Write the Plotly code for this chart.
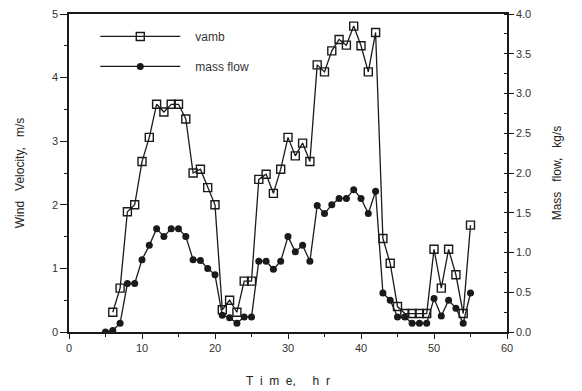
import plotly.graph_objects as go

# Data
time_vamb = list(range(6, 56))
vamb = [0.31, 0.69, 1.89, 2.00, 2.68, 3.06, 3.58, 3.46, 3.58, 3.58,
        3.35, 2.50, 2.56, 2.27, 2.00, 0.35, 0.50, 0.31, 0.80, 0.80,
        2.40, 2.48, 2.18, 2.56, 3.06, 2.77, 2.97, 2.68, 4.20, 4.09,
        4.42, 4.60, 4.51, 4.81, 4.50, 4.09, 4.71, 1.47, 1.08, 0.40,
        0.29, 0.29, 0.29, 0.29, 1.30, 0.69, 1.30, 0.90, 0.29, 1.68]

time_mass = list(range(5, 56))
mass_flow = [0.00, 0.02, 0.11, 0.61, 0.61, 0.91, 1.09, 1.30, 1.20, 1.30,
             1.30, 1.20, 0.91, 0.90, 0.80, 0.72, 0.21, 0.18, 0.11, 0.19,
             0.19, 0.89, 0.89, 0.79, 0.89, 1.20, 1.01, 1.09, 0.89, 1.59,
             1.49, 1.60, 1.68, 1.68, 1.79, 1.68, 1.49, 1.77, 0.49, 0.40,
             0.19, 0.19, 0.11, 0.11, 0.11, 0.42, 0.20, 0.40, 0.30, 0.11,
             0.49]

x_ticks = [0, 10, 20, 30, 40, 50, 60]
y_ticks = [0, 1, 2, 3, 4, 5]
y2_ticks = [0.0, 0.5, 1.0, 1.5, 2.0, 2.5, 3.0, 3.5, 4.0]

INK = "#1a1a1a"
FONT = "Liberation Sans"
NB = "\u00a0\u00a0\u00a0"

fig = go.Figure()
fig.add_trace(go.Scatter(
    x=time_vamb, y=vamb, name=NB + "vamb", mode="lines+markers",
    line=dict(color=INK, width=1.3),
    marker=dict(symbol="square-open", size=8, color=INK, line=dict(width=1.4, color=INK)),
    legendgroup="a", yaxis="y"))
fig.add_trace(go.Scatter(
    x=time_mass, y=mass_flow, name=NB + "mass flow", mode="lines+markers",
    line=dict(color=INK, width=1.3),
    marker=dict(symbol="circle", size=7, color=INK),
    legendgroup="b", yaxis="y2"))

axis_common = dict(showgrid=False, zeroline=False, showline=True, linecolor=INK, automargin=False,
                   linewidth=1.5, tickcolor=INK, tickfont=dict(family=FONT, size=11, color="#333"))

fig.update_layout(
    width=582, height=391,
    margin=dict(l=69, r=75, t=14, b=59),
    paper_bgcolor="white", plot_bgcolor="white",
    font=dict(family=FONT, color=INK),
    showlegend=True,
    legend=dict(x=0.06, y=0.975, xanchor="left", yanchor="top",
                bgcolor="rgba(0,0,0,0)", font=dict(family=FONT, size=12, color="#333"),
                tracegroupgap=11, itemwidth=80),
    xaxis=dict(range=[0, 60], tickvals=x_ticks, ticks="outside", ticklen=5, mirror=True,
               minor=dict(dtick=5, ticks="outside", ticklen=3, tickcolor=INK),
               title=dict(text="T  i  m  e,     h  r", font=dict(family=FONT, size=12, color="#222"), standoff=24),
               **axis_common),
    yaxis=dict(range=[0, 5], tickvals=y_ticks, ticks="outside", ticklen=7,
               minor=dict(dtick=0.5, ticks="outside", ticklen=3, tickcolor=INK),
               title=dict(text="Wind   Velocity,   m/s", font=dict(family=FONT, size=12, color="#222"), standoff=25),
               **axis_common),
    yaxis2=dict(range=[0, 4], tickvals=y2_ticks, tickformat=".1f", overlaying="y", side="right",
                ticks="outside", ticklen=5,
                minor=dict(dtick=0.25, ticks="inside", ticklen=3, tickcolor=INK),
                title=dict(text="Mass   flow,   kg/s", font=dict(family=FONT, size=12, color="#222"), standoff=22),
                **axis_common),
)

fig.write_html("out.html")
